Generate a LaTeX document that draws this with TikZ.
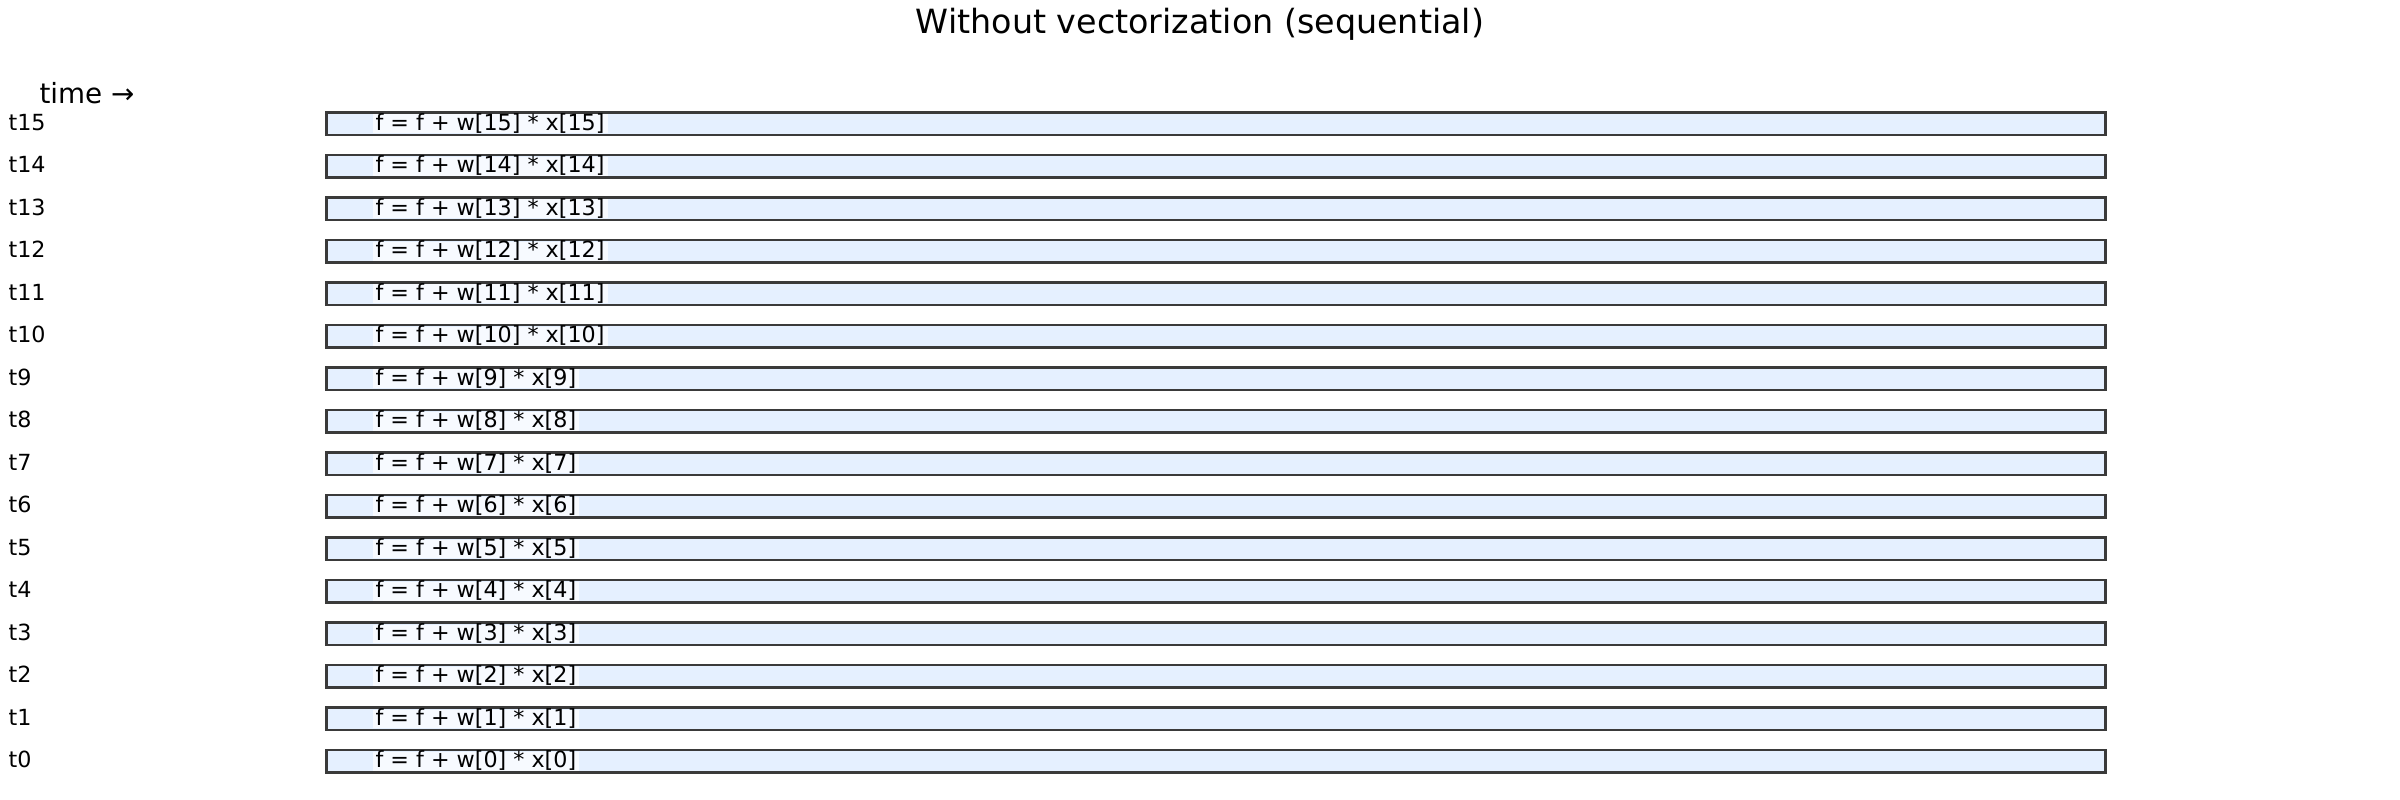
\documentclass[tikz,border=0pt]{standalone}
\usepackage{fontspec}
\setmainfont{DejaVu Sans}
\definecolor{barfill}{HTML}{E5F0FF}
\definecolor{baredge}{HTML}{3A3A3A}
\begin{document}
\begin{tikzpicture}[x=0.36pt,y=-0.36pt,
  bar/.style={draw=baredge,line width=0.9pt,fill=barfill,minimum width=640.5pt,minimum height=8.1pt,inner sep=0pt},
  oplabel/.style={anchor=base west,fill=white,fill opacity=0.7,text opacity=1,font=\fontsize{8}{9.6}\selectfont,inner xsep=1.08pt,inner ysep=0pt,text height=5.7pt,text depth=1.08pt},
  rowlabel/.style={anchor=base west,inner sep=0pt,font=\fontsize{8}{9.6}\selectfont},
  title/.style={anchor=base,inner sep=0pt,font=\fontsize{12}{14.4}\selectfont},
  axislabel/.style={anchor=base west,inner sep=0pt,font=\fontsize{10}{12}\selectfont}]
\useasboundingbox (0,0) rectangle (2400,800);
\node[title] (title) at (1200,34) {Without vectorization (sequential)};
\node[axislabel] (time) at (39,103.5) {time →};
\foreach \i in {0,...,15}{
  \pgfmathsetmacro\c{761.5-42.53*\i}
  \pgfmathsetmacro\b{\c+6.5}
  \node[bar] (bar\i) at (1216,\c) {};
  \node[rowlabel] (t\i) at (8,\b) {t\i};
  \node[oplabel] (op\i) at (372,\b) {f = f + w[\i] * x[\i]};
}
\end{tikzpicture}
\end{document}
